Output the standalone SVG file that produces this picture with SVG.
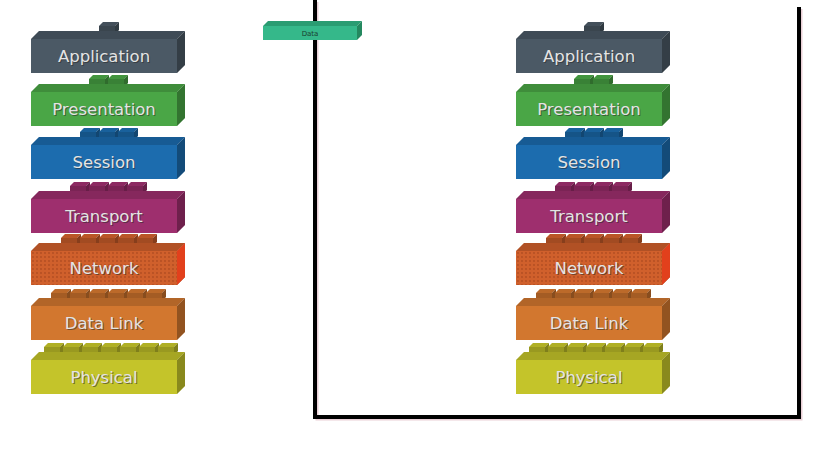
<svg xmlns="http://www.w3.org/2000/svg" xmlns:xlink="http://www.w3.org/1999/xlink" width="819" height="460" viewBox="0 0 819 460">
<style>
.lbl{font-family:"DejaVu Sans",Verdana,sans-serif;font-size:16.5px;text-anchor:middle;fill:#e4e4e4}
.sh{fill:#2a2a2a;opacity:.55}
.wire{fill:none;stroke:#000;stroke-width:4}
.wsh{fill:none;stroke:#e9cfd6;stroke-width:3}
</style>
<defs>
<g id="box">
<rect x="0" y="0" width="146" height="34" fill="currentColor"/>
<path d="M0,0 L8,-8 L154,-8 L146,0Z" fill="currentColor"/>
<path d="M0,0 L8,-8 L154,-8 L146,0Z" fill="#000" opacity=".15"/>
<path d="M146,0 L154,-8 L154,26 L146,34Z" fill="currentColor"/>
<path d="M146,0 L154,-8 L154,26 L146,34Z" fill="#000" opacity=".3"/>
</g>
<g id="stud">
<rect x="0" y="-13" width="16" height="8" fill="currentColor"/>
<rect x="0" y="-13" width="16" height="8" fill="#000" opacity=".22"/>
<path d="M0,-13 L4,-17 L20,-17 L16,-13Z" fill="currentColor"/>
<path d="M0,-13 L4,-17 L20,-17 L16,-13Z" fill="#000" opacity=".1"/>
<path d="M16,-13 L20,-17 L20,-9 L16,-5Z" fill="currentColor"/>
<path d="M16,-13 L20,-17 L20,-9 L16,-5Z" fill="#000" opacity=".35"/>
</g>
<pattern id="dots" width="4" height="4" patternUnits="userSpaceOnUse">
<circle cx="2" cy="2" r="0.9" fill="#8a3212" opacity=".45"/>
</pattern>
</defs>

<g id="connectors">
<path class="wsh" d="M317,2 V419 H801 V9"/>
<path class="wire" d="M315,0 V417 H799 V7"/>
</g>

<g id="data" transform="translate(263,26)" color="#35b88a">
<rect x="0" y="0" width="94" height="14" fill="currentColor"/>
<path d="M0,0 L5,-5 L99,-5 L94,0Z" fill="#2a9c72"/>
<path d="M94,0 L99,-5 L99,9 L94,14Z" fill="#24885f"/>
<text x="47" y="10" style="font-family:'DejaVu Sans',Verdana,sans-serif;font-size:7px;text-anchor:middle;fill:#1a3f30">Data</text>
</g>

<!-- Left stack -->
<g id="L-application" transform="translate(31,39)" color="#4b5965">
<use xlink:href="#stud" x="68"/>
<use xlink:href="#box"/>
<text class="lbl sh" x="74" y="24">Application</text><text class="lbl" x="73" y="23">Application</text>
</g>
<g id="L-presentation" transform="translate(31,92)" color="#4aa646">
<use xlink:href="#stud" x="58"/><use xlink:href="#stud" x="77"/>
<use xlink:href="#box"/>
<text class="lbl sh" x="74" y="24">Presentation</text><text class="lbl" x="73" y="23">Presentation</text>
</g>
<g id="L-session" transform="translate(31,145)" color="#1c6cae">
<use xlink:href="#stud" x="49"/><use xlink:href="#stud" x="68"/><use xlink:href="#stud" x="87"/>
<use xlink:href="#box"/>
<text class="lbl sh" x="74" y="24">Session</text><text class="lbl" x="73" y="23">Session</text>
</g>
<g id="L-transport" transform="translate(31,199)" color="#9e2f6e">
<use xlink:href="#stud" x="39"/><use xlink:href="#stud" x="58"/><use xlink:href="#stud" x="77"/><use xlink:href="#stud" x="96"/>
<use xlink:href="#box"/>
<text class="lbl sh" x="74" y="24">Transport</text><text class="lbl" x="73" y="23">Transport</text>
</g>
<g id="L-network" transform="translate(31,251)" color="#d0602c">
<use xlink:href="#stud" x="30"/><use xlink:href="#stud" x="49"/><use xlink:href="#stud" x="68"/><use xlink:href="#stud" x="87"/><use xlink:href="#stud" x="106"/>
<use xlink:href="#box"/>
<rect x="0" y="0" width="146" height="34" fill="url(#dots)"/>
<path d="M146,0 L154,-8 L154,26 L146,34Z" fill="#e2401c"/>
<text class="lbl sh" x="74" y="24">Network</text><text class="lbl" x="73" y="23">Network</text>
</g>
<g id="L-datalink" transform="translate(31,306)" color="#d2772f">
<use xlink:href="#stud" x="20"/><use xlink:href="#stud" x="39"/><use xlink:href="#stud" x="58"/><use xlink:href="#stud" x="77"/><use xlink:href="#stud" x="96"/><use xlink:href="#stud" x="115"/>
<use xlink:href="#box"/>
<text class="lbl sh" x="74" y="24">Data Link</text><text class="lbl" x="73" y="23">Data Link</text>
</g>
<g id="L-physical" transform="translate(31,360)" color="#c4c42a">
<use xlink:href="#stud" x="13"/><use xlink:href="#stud" x="32"/><use xlink:href="#stud" x="51"/><use xlink:href="#stud" x="70"/><use xlink:href="#stud" x="89"/><use xlink:href="#stud" x="108"/><use xlink:href="#stud" x="127"/>
<use xlink:href="#box"/>
<text class="lbl sh" x="74" y="24">Physical</text><text class="lbl" x="73" y="23">Physical</text>
</g>

<!-- Right stack -->
<g id="R-application" transform="translate(516,39)" color="#4b5965">
<use xlink:href="#stud" x="68"/>
<use xlink:href="#box"/>
<text class="lbl sh" x="74" y="24">Application</text><text class="lbl" x="73" y="23">Application</text>
</g>
<g id="R-presentation" transform="translate(516,92)" color="#4aa646">
<use xlink:href="#stud" x="58"/><use xlink:href="#stud" x="77"/>
<use xlink:href="#box"/>
<text class="lbl sh" x="74" y="24">Presentation</text><text class="lbl" x="73" y="23">Presentation</text>
</g>
<g id="R-session" transform="translate(516,145)" color="#1c6cae">
<use xlink:href="#stud" x="49"/><use xlink:href="#stud" x="68"/><use xlink:href="#stud" x="87"/>
<use xlink:href="#box"/>
<text class="lbl sh" x="74" y="24">Session</text><text class="lbl" x="73" y="23">Session</text>
</g>
<g id="R-transport" transform="translate(516,199)" color="#9e2f6e">
<use xlink:href="#stud" x="39"/><use xlink:href="#stud" x="58"/><use xlink:href="#stud" x="77"/><use xlink:href="#stud" x="96"/>
<use xlink:href="#box"/>
<text class="lbl sh" x="74" y="24">Transport</text><text class="lbl" x="73" y="23">Transport</text>
</g>
<g id="R-network" transform="translate(516,251)" color="#d0602c">
<use xlink:href="#stud" x="30"/><use xlink:href="#stud" x="49"/><use xlink:href="#stud" x="68"/><use xlink:href="#stud" x="87"/><use xlink:href="#stud" x="106"/>
<use xlink:href="#box"/>
<rect x="0" y="0" width="146" height="34" fill="url(#dots)"/>
<path d="M146,0 L154,-8 L154,26 L146,34Z" fill="#e2401c"/>
<text class="lbl sh" x="74" y="24">Network</text><text class="lbl" x="73" y="23">Network</text>
</g>
<g id="R-datalink" transform="translate(516,306)" color="#d2772f">
<use xlink:href="#stud" x="20"/><use xlink:href="#stud" x="39"/><use xlink:href="#stud" x="58"/><use xlink:href="#stud" x="77"/><use xlink:href="#stud" x="96"/><use xlink:href="#stud" x="115"/>
<use xlink:href="#box"/>
<text class="lbl sh" x="74" y="24">Data Link</text><text class="lbl" x="73" y="23">Data Link</text>
</g>
<g id="R-physical" transform="translate(516,360)" color="#c4c42a">
<use xlink:href="#stud" x="13"/><use xlink:href="#stud" x="32"/><use xlink:href="#stud" x="51"/><use xlink:href="#stud" x="70"/><use xlink:href="#stud" x="89"/><use xlink:href="#stud" x="108"/><use xlink:href="#stud" x="127"/>
<use xlink:href="#box"/>
<text class="lbl sh" x="74" y="24">Physical</text><text class="lbl" x="73" y="23">Physical</text>
</g>
</svg>
